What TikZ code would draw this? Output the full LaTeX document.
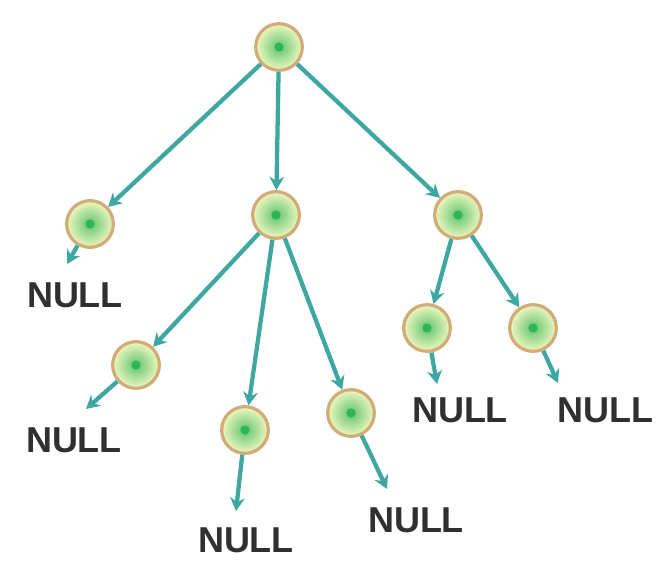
\documentclass[tikz,border=0pt]{standalone}
\usepackage{fontspec}
\setmainfont{Liberation Sans}
\usetikzlibrary{arrows.meta}
\definecolor{ringc}{HTML}{D2AC78}
\definecolor{fillc}{HTML}{F0F7C0}
\definecolor{dotc}{HTML}{2FB456}
\definecolor{edgec}{HTML}{3FA7A2}
\definecolor{textc}{HTML}{303030}
\tikzset{
  tnode/.style={circle, minimum size=35pt, inner sep=0pt, draw=ringc, line width=2.4pt,
    inner color=dotc!75!fillc, outer color=fillc},
  nulllabel/.style={font=\bfseries\fontsize{27}{27}\selectfont, text=textc, inner sep=0pt},
  edge/.style={draw=edgec, line width=3.2pt, -{Stealth[length=10pt,width=11pt]}},
}
\newcommand{\tdot}[1]{\fill[dotc] (#1) circle (3.5pt);}
\begin{document}
\begin{tikzpicture}[x=0.75pt,y=-0.75pt]
\useasboundingbox (0,0) rectangle (663,560);
% nodes
\node[tnode] (r) at (279,47) {};
\node[tnode] (a) at (90,224) {};
\node[tnode] (b) at (276,215) {};
\node[tnode] (c) at (458,215) {};
\node[tnode] (b1) at (136,365) {};
\node[tnode] (b2) at (245,430) {};
\node[tnode] (b3) at (351,413) {};
\node[tnode] (c1) at (427,328) {};
\node[tnode] (c2) at (533,328) {};
% NULL labels
\node[nulllabel] (na) at (75,295) {NULL};
\node[nulllabel] (nb1) at (74,440) {NULL};
\node[nulllabel] (nb2) at (246,540) {NULL};
\node[nulllabel] (nb3) at (416,520) {NULL};
\node[nulllabel] (nc1) at (460,410) {NULL};
\node[nulllabel] (nc2) at (605,410) {NULL};
% arrow tips to NULL
\coordinate (ta) at (67,264);
\coordinate (tb1) at (86,409);
\coordinate (tb2) at (236,511);
\coordinate (tb3) at (387,489);
\coordinate (tc1) at (437,384);
\coordinate (tc2) at (558,383);
% edges
\draw[edge] (r) -- (a);
\draw[edge] (r) -- (b);
\draw[edge] (r) -- (c);
\draw[edge] (b) -- (b1);
\draw[edge] (b) -- (b2);
\draw[edge] (b) -- (b3);
\draw[edge] (c) -- (c1);
\draw[edge] (c) -- (c2);
\draw[edge] (a) -- (ta);
\draw[edge] (b1) -- (tb1);
\draw[edge] (b2) -- (tb2);
\draw[edge] (b3) -- (tb3);
\draw[edge] (c1) -- (tc1);
\draw[edge] (c2) -- (tc2);
% centre dots
\foreach \n in {r,a,b,c,b1,b2,b3,c1,c2} { \tdot{\n} }
\end{tikzpicture}
\end{document}
